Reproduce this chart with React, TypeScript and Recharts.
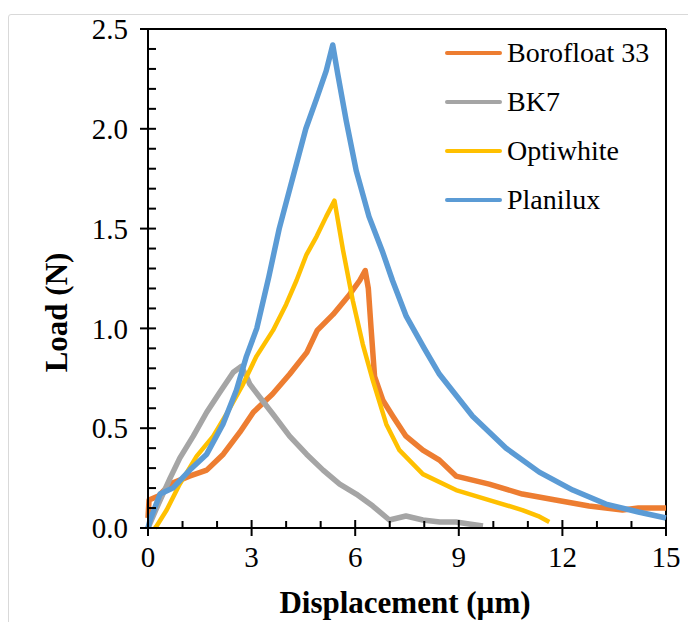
import React from "react";
import { LineChart, Line, XAxis, YAxis, ReferenceLine } from "recharts";

const FONT = '"Liberation Serif", "Times New Roman", serif';

// Borofloat 33
const boroX = [0, 0.03, 0.3, 0.64, 1.2, 1.7, 2.18, 2.66, 3.05, 3.6, 4.1, 4.6, 4.9, 5.36, 5.84, 6.13, 6.29, 6.38, 6.46, 6.56, 6.8, 7.09, 7.47, 7.96, 8.44, 8.92, 9.4, 9.88, 10.84, 11.8, 12.77, 13.74, 14.2, 14.7, 15];
const boroY = [0.05, 0.14, 0.16, 0.22, 0.26, 0.29, 0.37, 0.48, 0.58, 0.67, 0.77, 0.88, 0.99, 1.07, 1.17, 1.24, 1.29, 1.2, 1.0, 0.76, 0.64, 0.56, 0.46, 0.39, 0.34, 0.26, 0.24, 0.22, 0.17, 0.14, 0.11, 0.09, 0.1, 0.1, 0.1];

// BK7
const bk7X = [0, 0.3, 0.64, 0.92, 1.31, 1.7, 2.08, 2.47, 2.7, 2.85, 2.95, 3.62, 4.1, 4.59, 5.07, 5.55, 6.03, 6.51, 6.99, 7.47, 7.96, 8.45, 8.92, 9.3, 9.7];
const bk7Y = [0, 0.12, 0.25, 0.35, 0.46, 0.58, 0.68, 0.78, 0.81, 0.76, 0.72, 0.57, 0.46, 0.37, 0.29, 0.22, 0.17, 0.11, 0.04, 0.06, 0.04, 0.03, 0.03, 0.02, 0.01];

// Optiwhite
const optiX = [0.2, 0.25, 0.54, 0.92, 1.41, 1.89, 2.27, 2.75, 3.14, 3.62, 4.0, 4.3, 4.59, 4.88, 5.16, 5.4, 5.65, 5.93, 6.22, 6.51, 6.9, 7.28, 7.96, 8.92, 9.88, 10.84, 11.3, 11.62];
const optiY = [0, 0.01, 0.09, 0.22, 0.36, 0.46, 0.57, 0.72, 0.86, 0.99, 1.12, 1.24, 1.37, 1.46, 1.56, 1.64, 1.39, 1.14, 0.92, 0.74, 0.52, 0.39, 0.27, 0.19, 0.14, 0.09, 0.06, 0.03];

// Planilux
const planiX = [0, 0.06, 0.35, 0.72, 1.21, 1.7, 2.17, 2.56, 2.85, 3.15, 3.5, 3.8, 4.0, 4.2, 4.57, 4.88, 5.16, 5.35, 5.5, 5.74, 6.03, 6.4, 6.8, 7.08, 7.48, 8.0, 8.44, 9.4, 10.37, 11.33, 12.3, 13.26, 14.2, 15];
const planiY = [0, 0.04, 0.17, 0.2, 0.29, 0.37, 0.52, 0.69, 0.86, 1.0, 1.26, 1.5, 1.63, 1.76, 2.0, 2.15, 2.29, 2.42, 2.27, 2.04, 1.79, 1.56, 1.38, 1.24, 1.06, 0.9, 0.77, 0.56, 0.4, 0.28, 0.19, 0.12, 0.08, 0.05];

const xTicks = [0, 1, 2, 3, 4, 5, 6, 7, 8, 9, 10, 11, 12, 13, 14, 15];
const yTicks = [0, 0.1, 0.2, 0.3, 0.4, 0.5, 0.6, 0.7, 0.8, 0.9, 1.0, 1.1, 1.2, 1.3, 1.4, 1.5, 1.6, 1.7, 1.8, 1.9, 2.0, 2.1, 2.2, 2.3, 2.4, 2.5];

const toPoints = (xs: number[], ys: number[]) => xs.map((x, i) => ({ x, y: ys[i] }));

const series = [
  { name: "Borofloat 33", color: "#ED7D31", width: 5.5, data: toPoints(boroX, boroY) },
  { name: "BK7", color: "#A5A5A5", width: 5.5, data: toPoints(bk7X, bk7Y) },
  { name: "Optiwhite", color: "#FFC000", width: 4.5, data: toPoints(optiX, optiY) },
  { name: "Planilux", color: "#5B9BD5", width: 5.5, data: toPoints(planiX, planiY) },
];

function XTick({ x, y, payload }: any) {
  const v = payload.value;
  const major = Math.abs(v % 3) < 1e-6;
  return (
    <g>
      <line x1={x} x2={x} y1={y - (major ? 8 : 7)} y2={major ? y + 8 : y} stroke="#000" strokeWidth={2} />
      {major && (
        <text x={x} y={y + 39} textAnchor="middle" fontFamily={FONT} fontSize={29} fill="#000">
          {v}
        </text>
      )}
    </g>
  );
}

function YTick({ x, y, payload }: any) {
  const v = payload.value;
  const major = Math.round(v * 10) % 5 === 0;
  return (
    <g>
      <line x1={major ? x - 8 : x} x2={x + 8} y1={y} y2={y} stroke="#000" strokeWidth={2} />
      {major && (
        <text x={x - 20} y={y} dy="0.35em" textAnchor="end" fontFamily={FONT} fontSize={29} fill="#000">
          {v.toFixed(1)}
        </text>
      )}
    </g>
  );
}

function LegendBox() {
  return (
    <div style={{ position: "absolute", left: 445, top: 28, fontFamily: FONT, fontSize: 28, color: "#000" }}>
      {series.map((s) => (
        <div key={s.name} style={{ display: "flex", alignItems: "center", height: 49 }}>
          <div style={{ width: 57, height: 4, borderRadius: 2, background: s.color, marginRight: 5 }} />
          <span style={{ lineHeight: "49px", whiteSpace: "nowrap" }}>{s.name}</span>
        </div>
      ))}
    </div>
  );
}

export default function App() {
  return (
    <div style={{ position: "absolute", left: 0, top: 0, width: 688, height: 622, background: "#fff", overflow: "hidden" }}>
      <div style={{ position: "absolute", left: 8, top: 14, width: 720, height: 640, border: "1px solid #d9d9d9", borderRadius: 3 }} />
      <div style={{ position: "absolute", left: 0, top: 0 }}>
        <LineChart width={688} height={622} margin={{ top: 29, right: 22, bottom: 0, left: 0 }}>
          <XAxis
            type="number"
            dataKey="x"
            domain={[0, 15]}
            ticks={xTicks}
            interval={0}
            height={94}
            tickSize={0}
            tickMargin={0}
            tickLine={false}
            axisLine={{ stroke: "#000", strokeWidth: 2 }}
            tick={<XTick />}
            allowDuplicatedCategory={false}
            label={{
              content: ({ viewBox }: any) => (
                <text
                  x={viewBox.x + viewBox.width / 2 - 2}
                  y={viewBox.y + 85}
                  textAnchor="middle"
                  fontFamily={FONT}
                  fontSize={31}
                  fontWeight="bold"
                  fill="#000"
                >
                  Displacement (µm)
                </text>
              ),
            }}
          />
          <YAxis
            type="number"
            dataKey="y"
            domain={[0, 2.5]}
            ticks={yTicks}
            interval={0}
            width={148}
            tickSize={0}
            tickMargin={0}
            tickLine={false}
            axisLine={{ stroke: "#000", strokeWidth: 2 }}
            tick={<YTick />}
            label={{
              content: ({ viewBox }: any) => {
                const cx = 56;
                const cy = viewBox.y + viewBox.height / 2 + 34;
                return (
                  <text
                    x={cx}
                    y={cy}
                    transform={`rotate(-90 ${cx} ${cy})`}
                    textAnchor="middle"
                    dominantBaseline="central"
                    fontFamily={FONT}
                    fontSize={31}
                    fontWeight="bold"
                    fill="#000"
                  >
                    Load (N)
                  </text>
                );
              },
            }}
          />
          <ReferenceLine y={2.5} stroke="#000" strokeWidth={2} />
          <ReferenceLine x={15} stroke="#000" strokeWidth={2} />
          {series.map((s) => (
            <Line
              key={s.name}
              data={s.data}
              dataKey="y"
              name={s.name}
              type="linear"
              stroke={s.color}
              strokeWidth={s.width}
              strokeLinejoin="round"
              dot={false}
              activeDot={false}
              isAnimationActive={false}
            />
          ))}
        </LineChart>
      </div>
      <LegendBox />
    </div>
  );
}
